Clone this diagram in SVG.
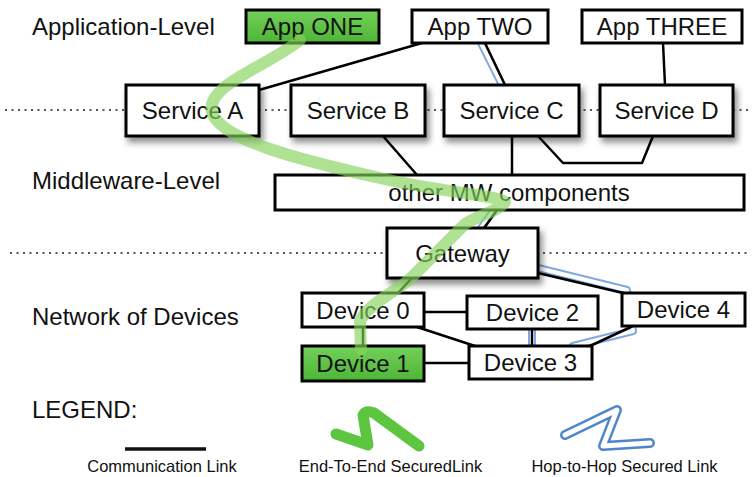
<svg xmlns="http://www.w3.org/2000/svg" width="753" height="477" viewBox="0 0 753 477">
<defs>
<style>
.box{fill:#fff;stroke:#000;stroke-width:3}
.green{fill:url(#gg);stroke:#000;stroke-width:3}
.lbl{font-family:"Liberation Sans",Arial,sans-serif;font-size:24px;fill:#111;text-anchor:middle}
.lvl{font-family:"Liberation Sans",Arial,sans-serif;font-size:24px;fill:#111}
.leg{font-family:"Liberation Sans",Arial,sans-serif;font-size:16.5px;fill:#111;text-anchor:middle}
.link{fill:none;stroke:#000;stroke-width:2.5;stroke-linejoin:round}
.dot{fill:none;stroke:#555;stroke-width:2;stroke-dasharray:2 4.5}
.hopo{fill:none;stroke:#7ea8de;stroke-width:8;stroke-linejoin:round;stroke-linecap:round}
.hopi{fill:none;stroke:#fff;stroke-width:4;stroke-linejoin:round;stroke-linecap:round}
.e2e{fill:none;stroke:#86d25a;stroke-opacity:0.65;stroke-width:12;stroke-linecap:round;stroke-linejoin:round}
</style>
<linearGradient id="gg" x1="0" y1="0" x2="0" y2="1">
<stop offset="0" stop-color="#74d05a"/>
<stop offset="1" stop-color="#4db536"/>
</linearGradient>
<filter id="sh" x="-20%" y="-20%" width="150%" height="160%">
<feDropShadow dx="3" dy="5" stdDeviation="3" flood-color="#000" flood-opacity="0.45"/>
</filter>
</defs>
<rect width="753" height="477" fill="#fff"/>

<g id="levels">
<line class="dot" x1="5" y1="110" x2="748" y2="110"/>
<line class="dot" x1="10" y1="253" x2="748" y2="253"/>
<text class="lvl" x="32" y="35" font-size="23.5">Application-Level</text>
<text class="lvl" x="32" y="189">Middleware-Level</text>
<text class="lvl" x="32" y="325">Network of Devices</text>
</g>

<g id="connectors">
<path class="hopo" d="M481,43 L502,85"/><path class="hopi" d="M481,43 L502,85"/>
<path class="hopo" d="M494,210 L481,228"/><path class="hopi" d="M494,210 L481,228"/>
<path class="hopo" d="M538,268 L627,290 L633,331 L573,346"/><path class="hopi" d="M538,268 L627,290 L633,331 L573,346"/>
<path class="hopo" d="M532,329 L532,346"/><path class="hopi" d="M532,329 L532,346"/>
<path class="link" d="M259,90 L422,43"/>
<path class="link" d="M485,43 L505,85"/>
<path class="link" d="M663,43 L665,85"/>
<path class="link" d="M383,136 L417,175"/>
<path class="link" d="M512,136 L512,175"/>
<path class="link" d="M538,136 L563,163 L642,163 L653,136"/>
<path class="link" d="M497,210 L484,228"/>
<path class="link" d="M412,278 L398,293"/>
<path class="link" d="M363,327 L363,346"/>
<path class="link" d="M424,312 L467,312"/>
<path class="link" d="M417,327 L475,346"/>
<path class="link" d="M424,363 L469,363"/>
<path class="link" d="M532,329 L532,346"/>
<path class="link" d="M538,273 L623,293"/>
<path class="link" d="M633,326 L590,346"/>
</g>

<g id="app-one"><rect class="green" x="246" y="10" width="133" height="33"/><text class="lbl" x="312.5" y="35">App ONE</text></g>
<g id="app-two"><rect class="box" x="412" y="10" width="136" height="33"/><text class="lbl" x="480" y="35">App TWO</text></g>
<g id="app-three"><rect class="box" x="582" y="10" width="160" height="33"/><text class="lbl" x="662" y="35">App THREE</text></g>

<g id="service-a"><rect class="box" filter="url(#sh)" x="126" y="85" width="133" height="51"/><text class="lbl" x="192.5" y="119">Service A</text></g>
<g id="service-b"><rect class="box" filter="url(#sh)" x="291" y="85" width="134" height="51"/><text class="lbl" x="358" y="119">Service B</text></g>
<g id="service-c"><rect class="box" filter="url(#sh)" x="444" y="85" width="135" height="51"/><text class="lbl" x="511.5" y="119">Service C</text></g>
<g id="service-d"><rect class="box" filter="url(#sh)" x="600" y="85" width="133" height="51"/><text class="lbl" x="666.5" y="119">Service D</text></g>

<g id="mw"><rect class="box" x="275" y="175" width="469" height="35"/><text class="lbl" x="509" y="201">other MW components</text></g>

<g id="gateway"><rect class="box" filter="url(#sh)" x="387" y="228" width="151" height="50"/><text class="lbl" x="462.5" y="261.5">Gateway</text></g>

<g id="device-0"><rect class="box" x="302" y="293" width="122" height="34"/><text class="lbl" x="363" y="318.5">Device 0</text></g>
<g id="device-1"><rect class="green" x="302" y="346" width="122" height="35"/><text class="lbl" x="363" y="372">Device 1</text></g>
<g id="device-2"><rect class="box" x="467" y="296" width="131" height="33"/><text class="lbl" x="532.5" y="321">Device 2</text></g>
<g id="device-3"><rect class="box" x="469" y="346" width="123" height="33"/><text class="lbl" x="530.5" y="371">Device 3</text></g>
<g id="device-4"><rect class="box" x="622" y="293" width="123" height="33"/><text class="lbl" x="683.5" y="318">Device 4</text></g>

<g id="end-to-end">
<path class="e2e" d="M300,40 C270,65 205,85 212,112 C220,140 300,160 380,178 C440,192 495,195 505,202 C500,210 480,215 465,224 L413,276 C400,290 365,305 360,322 L361,350"/>
</g>

<g id="legend">
<text class="lvl" x="32" y="418" font-size="19.5">LEGEND:</text>
<line x1="125" y1="449" x2="206" y2="449" stroke="#111" stroke-width="3.5"/>
<text class="leg" x="162" y="472">Communication Link</text>
<path d="M336,434 L368,445 L363,415 Q366,410 374,413 L419,446" fill="none" stroke="#5cc640" stroke-width="11" stroke-linecap="round" stroke-linejoin="round"/>
<text class="leg" x="390.5" y="472">End-To-End SecuredLink</text>
<path d="M565,435 L617,410 L603,446 L650,443" fill="none" stroke="#4f86c9" stroke-width="10" stroke-linecap="round" stroke-linejoin="round"/>
<path d="M565,435 L617,410 L603,446 L650,443" fill="none" stroke="#fff" stroke-width="5" stroke-linecap="round" stroke-linejoin="round"/>
<text class="leg" x="624.5" y="472">Hop-to-Hop Secured Link</text>
</g>
</svg>
